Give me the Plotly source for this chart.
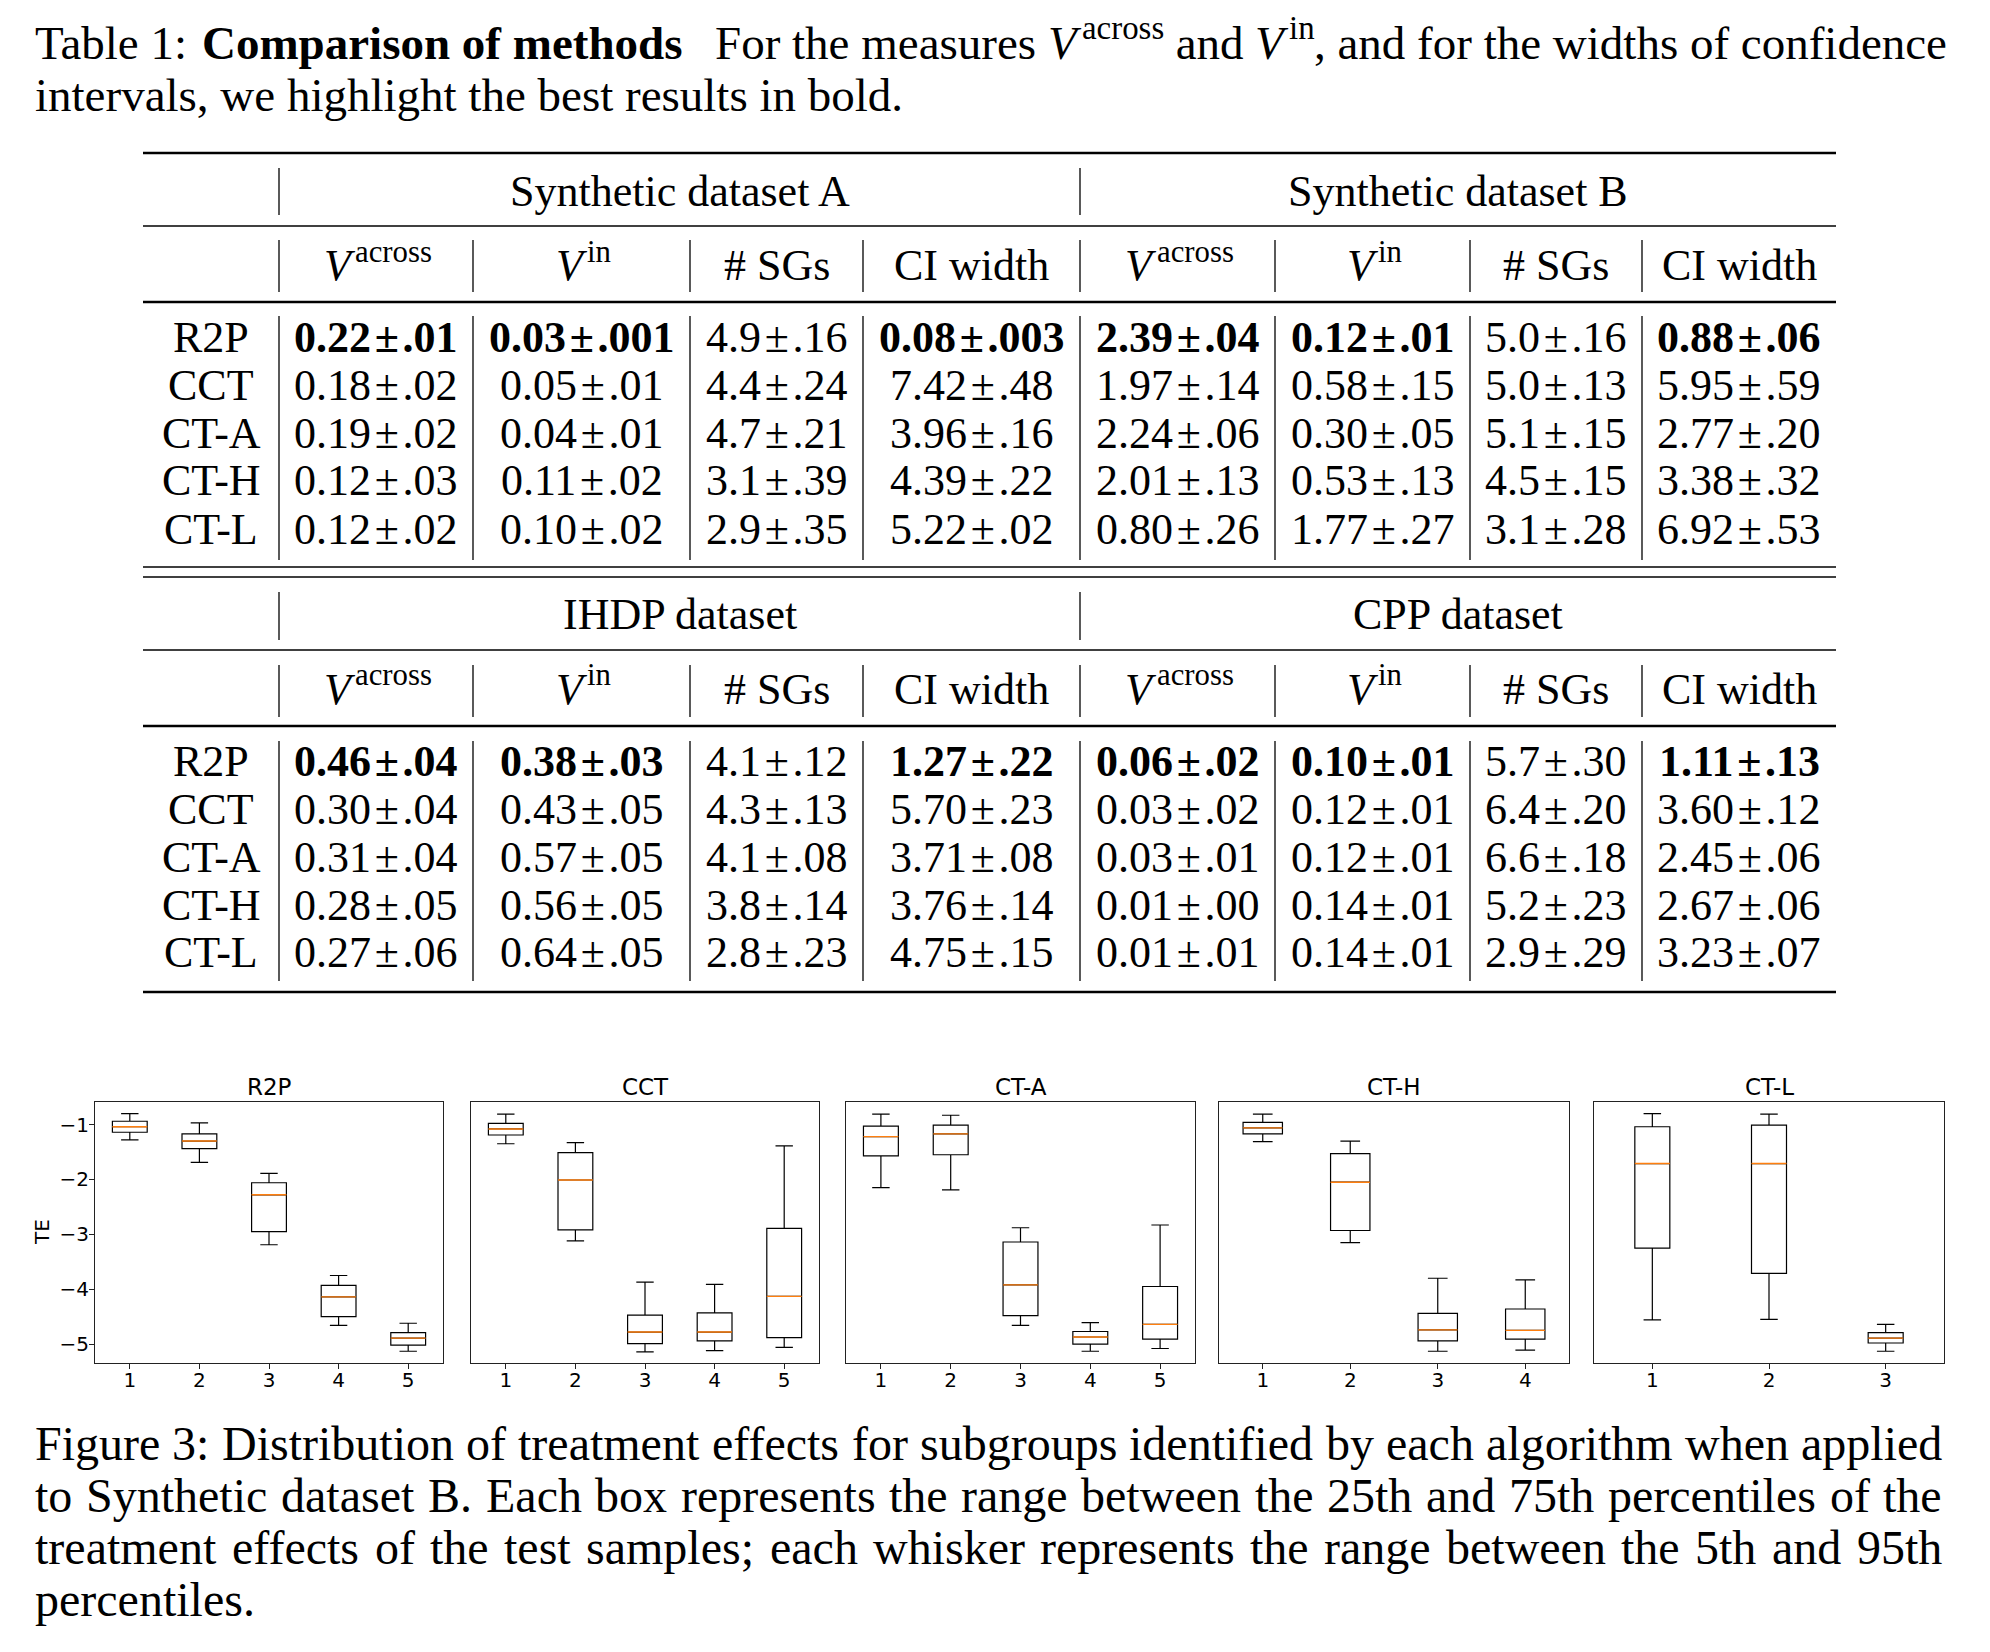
import plotly.graph_objects as go

# The page has an 8px body margin; the figure fills the rest of the 1990x1652 window.
PAGE_W, PAGE_H = 1990, 1652
BODY_MARGIN = 8
W, H = PAGE_W - 2 * BODY_MARGIN, PAGE_H - 2 * BODY_MARGIN

# ---------------- Table data ----------------
METHODS = ["R2P", "CCT", "CT-A", "CT-H", "CT-L"]
COLUMN_HEADERS = [("V", "across"), ("V", "in"), "# SGs", "CI width"]
DATASETS_TOP = ["Synthetic dataset A", "Synthetic dataset B"]
DATASETS_BOTTOM = ["IHDP dataset", "CPP dataset"]

SYN_A_V_ACROSS = ["0.22±.01", "0.18±.02", "0.19±.02", "0.12±.03", "0.12±.02"]
SYN_A_V_IN = ["0.03±.001", "0.05±.01", "0.04±.01", "0.11±.02", "0.10±.02"]
SYN_A_NUM_SGS = ["4.9±.16", "4.4±.24", "4.7±.21", "3.1±.39", "2.9±.35"]
SYN_A_CI_WIDTH = ["0.08±.003", "7.42±.48", "3.96±.16", "4.39±.22", "5.22±.02"]

SYN_B_V_ACROSS = ["2.39±.04", "1.97±.14", "2.24±.06", "2.01±.13", "0.80±.26"]
SYN_B_V_IN = ["0.12±.01", "0.58±.15", "0.30±.05", "0.53±.13", "1.77±.27"]
SYN_B_NUM_SGS = ["5.0±.16", "5.0±.13", "5.1±.15", "4.5±.15", "3.1±.28"]
SYN_B_CI_WIDTH = ["0.88±.06", "5.95±.59", "2.77±.20", "3.38±.32", "6.92±.53"]

IHDP_V_ACROSS = ["0.46±.04", "0.30±.04", "0.31±.04", "0.28±.05", "0.27±.06"]
IHDP_V_IN = ["0.38±.03", "0.43±.05", "0.57±.05", "0.56±.05", "0.64±.05"]
IHDP_NUM_SGS = ["4.1±.12", "4.3±.13", "4.1±.08", "3.8±.14", "2.8±.23"]
IHDP_CI_WIDTH = ["1.27±.22", "5.70±.23", "3.71±.08", "3.76±.14", "4.75±.15"]

CPP_V_ACROSS = ["0.06±.02", "0.03±.02", "0.03±.01", "0.01±.00", "0.01±.01"]
CPP_V_IN = ["0.10±.01", "0.12±.01", "0.12±.01", "0.14±.01", "0.14±.01"]
CPP_NUM_SGS = ["5.7±.30", "6.4±.20", "6.6±.18", "5.2±.23", "2.9±.29"]
CPP_CI_WIDTH = ["1.11±.13", "3.60±.12", "2.45±.06", "2.67±.06", "3.23±.07"]

BOLD_ROW = 0                 # R2P is best ...
BOLD_COLUMNS = [0, 1, 3]     # ... for V_across, V_in and CI width

# ---------------- Box-plot data (TE per subgroup) ----------------
# each entry: (5th pct whisker, 25th pct, median, 75th pct, 95th pct whisker)
PANEL_TITLES = ["R2P", "CCT", "CT-A", "CT-H", "CT-L"]
R2P_STATS = [(-1.28, -1.14, -1.04, -0.94, -0.80),
             (-1.69, -1.44, -1.30, -1.17, -0.97),
             (-3.19, -2.95, -2.28, -2.06, -1.89),
             (-4.66, -4.50, -4.14, -3.93, -3.75),
             (-5.13, -5.02, -4.89, -4.79, -4.62)]
CCT_STATS = [(-1.35, -1.19, -1.08, -0.98, -0.81),
             (-3.12, -2.92, -2.01, -1.51, -1.33),
             (-5.14, -4.99, -4.78, -4.47, -3.87),
             (-5.12, -4.94, -4.78, -4.43, -3.91),
             (-5.06, -4.88, -4.13, -2.89, -1.39)]
CTA_STATS = [(-2.15, -1.57, -1.22, -1.03, -0.81),
             (-2.19, -1.55, -1.17, -1.01, -0.83),
             (-4.66, -4.48, -3.92, -3.14, -2.88),
             (-5.13, -5.00, -4.87, -4.77, -4.61),
             (-5.08, -4.91, -4.64, -3.95, -2.83)]
CTH_STATS = [(-1.31, -1.17, -1.06, -0.96, -0.81),
             (-3.15, -2.93, -2.05, -1.53, -1.30),
             (-5.13, -4.94, -4.74, -4.44, -3.80),
             (-5.11, -4.91, -4.75, -4.36, -3.83)]
CTL_STATS = [(-4.56, -3.25, -1.71, -1.04, -0.80),
             (-4.55, -3.71, -1.71, -1.01, -0.81),
             (-5.13, -4.98, -4.89, -4.79, -4.64)]
Y_TICKS = [-1, -2, -3, -4, -5]

# caption line 1 as (text, style) runs; style: r=regular, b=bold, i=italic, s=superscript
CAPTION_TABLE_LINE1 = [("Table 1: ", "r"), ("Comparison of methods", "b"), ("\u2002\u2009", "r"),
                       ("For the measures ", "r"), ("V", "i"), ("across", "s"), (" and ", "r"),
                       ("V", "i"), ("in", "s"), (", and for the widths of confidence", "r")]
CAPTION_TABLE_LINE2 = "intervals, we highlight the best results in bold."
CAPTION_FIGURE = [
    "Figure 3: Distribution of treatment effects for subgroups identified by each algorithm when applied",
    "to Synthetic dataset B. Each box represents the range between the 25th and 75th percentiles of the",
    "treatment effects of the test samples; each whisker represents the range between the 5th and 95th",
    "percentiles.",
]

# ---------------- helpers ----------------
SERIF = "Liberation Serif"
SANS = "DejaVu Sans"

# Times (Liberation Serif) advance widths, 1/1000 em
_REG = dict(zip("abcdefghijklmnopqrstuvwxyz",
                [444, 500, 444, 500, 444, 333, 500, 500, 278, 278, 500, 278, 778,
                 500, 500, 500, 500, 333, 389, 278, 500, 500, 722, 500, 500, 444]))
_REG.update(dict(zip("ABCDEFGHIJKLMNOPQRSTUVWXYZ",
                     [722, 667, 667, 722, 611, 556, 722, 722, 333, 389, 722, 611, 889,
                      722, 722, 556, 722, 667, 556, 611, 722, 722, 944, 722, 722, 611])))
_REG.update({c: 500 for c in "0123456789"})
_REG.update({" ": 250, ".": 250, ",": 250, ";": 278, ":": 278, "-": 333,
             "\u2002": 500, "\u2009": 200})
_BOLD = {" ": 250, "C": 722, "o": 500, "m": 833, "p": 556, "a": 500, "r": 444, "i": 278, "s": 389,
         "n": 556, "f": 333, "e": 444, "t": 333, "h": 556, "d": 556}
_ITAL = {"V": 611}


def text_width(s, style, size):
    table = {"b": _BOLD, "i": _ITAL}.get(style, _REG)
    return sum(table.get(ch, 500) for ch in s) / 1000 * size


def px(x):
    return (x - BODY_MARGIN) / W


def py(y):
    return 1 - (y - BODY_MARGIN) / H


annotations = []
shapes = []


def text(x, y, s, size=44, family=SERIF, xanchor="center", yanchor="middle", angle=0,
         weight="normal", style="normal"):
    annotations.append(dict(x=px(x), y=py(y), xref="paper", yref="paper", text=s,
                            showarrow=False, xanchor=xanchor, yanchor=yanchor,
                            textangle=angle,
                            font=dict(family=family, size=size, color="black",
                                      weight=weight, style=style)))


def runs(x, y, parts, size):
    """Lay out a sequence of styled text runs from left edge x, cap-centre y."""
    sup_size = 0.7 * size
    for s, st in parts:
        if st == "s":
            x += 0.1 * size
            text(x, y - 0.32 * size, s, size=sup_size, xanchor="left")
            x += text_width(s, "r", sup_size)
        else:
            text(x, y, s, size=size, xanchor="left",
                 weight="bold" if st == "b" else "normal",
                 style="italic" if st == "i" else "normal")
            x += text_width(s, st, size)


def justified(x0, x1, y, line, size):
    """Place the words of a line so that it fills x0..x1 (like LaTeX justification)."""
    words = line.split(" ")
    widths = [text_width(w, "r", size) for w in words]
    gap = (x1 - x0 - sum(widths)) / (len(words) - 1)
    x = x0
    for w, wd in zip(words, widths):
        text(x, y, w, size=size, xanchor="left")
        x += wd + gap


def hline(y, x0, x1, w):
    shapes.append(dict(type="line", xref="paper", yref="paper", x0=px(x0), x1=px(x1),
                       y0=py(y), y1=py(y), line=dict(color="black", width=w)))


def vline(x, y0, y1, w=1.3):
    shapes.append(dict(type="line", xref="paper", yref="paper", x0=px(x), x1=px(x),
                       y0=py(y0), y1=py(y1), line=dict(color="black", width=w)))


def fmt(v):
    return v.replace("±", "\u200a±\u200a")


# ---------------- captions ----------------
TEXT_LEFT, TEXT_RIGHT = 33, 1940
runs(TEXT_LEFT, 43, CAPTION_TABLE_LINE1, 47)
text(TEXT_LEFT, 95, CAPTION_TABLE_LINE2, size=47, xanchor="left")
FIG_CAP_Y = [1443, 1495, 1547, 1599]
for k, (yy, line) in enumerate(zip(FIG_CAP_Y, CAPTION_FIGURE)):
    if k < len(CAPTION_FIGURE) - 1:
        justified(TEXT_LEFT, TEXT_RIGHT, yy, line, 48)
    else:
        text(TEXT_LEFT, yy, line, size=48, xanchor="left")

# ---------------- table ----------------
TSIZE = 44
TX0, TX1 = 143, 1836
SEPS = [279, 473, 690, 863, 1080, 1275, 1470, 1642]
COL_CENTERS = [(SEPS[i] + SEPS[i + 1]) / 2 for i in range(7)] + [(SEPS[7] + TX1) / 2]
LABEL_CX = (TX0 + SEPS[0]) / 2
GROUP_CX = [(SEPS[0] + SEPS[4]) / 2, (SEPS[4] + TX1) / 2]

blocks = [
    dict(titles=DATASETS_TOP,
         cols=[SYN_A_V_ACROSS, SYN_A_V_IN, SYN_A_NUM_SGS, SYN_A_CI_WIDTH,
               SYN_B_V_ACROSS, SYN_B_V_IN, SYN_B_NUM_SGS, SYN_B_CI_WIDTH],
         top=153, top_w=2.6, title_y=191, title_seg=(168, 215), mid=226,
         head_y=266, head_seg=(240, 292), head_rule=302,
         rows=[337, 385, 433, 481, 529], data_seg=(316, 560)),
    dict(titles=DATASETS_BOTTOM,
         cols=[IHDP_V_ACROSS, IHDP_V_IN, IHDP_NUM_SGS, IHDP_CI_WIDTH,
               CPP_V_ACROSS, CPP_V_IN, CPP_NUM_SGS, CPP_CI_WIDTH],
         top=577, top_w=1.6, title_y=614, title_seg=(592, 640), mid=650,
         head_y=689, head_seg=(665, 717), head_rule=726,
         rows=[761, 809, 857, 905, 953], data_seg=(741, 981)),
]

hline(567, TX0, TX1, 1.6)       # first line of the double rule
hline(992, TX0, TX1, 2.6)       # bottom rule

for b in blocks:
    hline(b["top"], TX0, TX1, b["top_w"])
    hline(b["mid"], TX0, TX1, 1.6)
    hline(b["head_rule"], TX0, TX1, 2.4)
    for sx in (SEPS[0], SEPS[4]):
        vline(sx, *b["title_seg"])
    for sx in SEPS:
        vline(sx, *b["head_seg"])
        vline(sx, *b["data_seg"])
    for g, t in enumerate(b["titles"]):
        text(GROUP_CX[g], b["title_y"], t, size=TSIZE)
    for c in range(8):
        hdr = COLUMN_HEADERS[c % 4]
        if isinstance(hdr, tuple):
            base, sup = hdr
            total = (text_width(base, "i", TSIZE) + 0.1 * TSIZE
                     + text_width(sup, "r", 0.7 * TSIZE))
            runs(COL_CENTERS[c] - total / 2, b["head_y"], [(base, "i"), (sup, "s")], TSIZE)
        else:
            text(COL_CENTERS[c], b["head_y"], hdr, size=TSIZE)
    for r, (m, yy) in enumerate(zip(METHODS, b["rows"])):
        text(LABEL_CX, yy, m, size=TSIZE)
        for c in range(8):
            bold = r == BOLD_ROW and (c % 4) in BOLD_COLUMNS
            text(COL_CENTERS[c], yy, fmt(b["cols"][c][r]), size=TSIZE,
                 weight="bold" if bold else "normal")

# ---------------- box plots ----------------
fig = go.Figure()
PANEL_STATS = [R2P_STATS, CCT_STATS, CTA_STATS, CTH_STATS, CTL_STATS]
PANEL_X = [(95, 443), (471, 819), (846, 1195), (1219, 1569), (1594, 1944)]
AX_TOP, AX_BOT = 1102, 1363
Y_RANGE = [-5.344, -0.589]

layout_axes = {}
for i, (title, stats, (x0, x1)) in enumerate(zip(PANEL_TITLES, PANEL_STATS, PANEL_X)):
    n = len(stats)
    pos = list(range(1, n + 1))
    bw = min(max(0.15 * (n - 1), 0.15), 0.5)
    xa = "x" if i == 0 else f"x{i + 1}"
    ya = "y" if i == 0 else f"y{i + 1}"
    fig.add_trace(go.Box(
        x=pos,
        lowerfence=[s[0] for s in stats], q1=[s[1] for s in stats],
        median=[s[2] for s in stats], q3=[s[3] for s in stats],
        upperfence=[s[4] for s in stats],
        width=bw, whiskerwidth=0.5, boxpoints=False,
        line=dict(color="black", width=1.2), fillcolor="rgba(255,255,255,0)",
        showlegend=False, hoverinfo="skip", xaxis=xa, yaxis=ya))
    mx, my = [], []
    for p, s in zip(pos, stats):
        mx += [p - bw / 2, p + bw / 2, None]
        my += [s[2], s[2], None]
    fig.add_trace(go.Scatter(x=mx, y=my, mode="lines",
                             line=dict(color="#ff7f0e", width=1.4),
                             showlegend=False, hoverinfo="skip", xaxis=xa, yaxis=ya))
    axis_common = dict(showline=True, mirror=True, linecolor="#222", linewidth=1,
                       showgrid=False, zeroline=False, fixedrange=True,
                       tickfont=dict(family=SANS, size=20, color="black"),
                       ticks="outside", ticklen=5, tickcolor="#222", tickwidth=1)
    key_x = "xaxis" if i == 0 else f"xaxis{i + 1}"
    key_y = "yaxis" if i == 0 else f"yaxis{i + 1}"
    layout_axes[key_x] = dict(axis_common, domain=[px(x0), px(x1)], range=[0.5, n + 0.5],
                              tickvals=pos, ticktext=[str(p) for p in pos],
                              ticklabelstandoff=-6, anchor=ya)
    ydict = dict(axis_common, domain=[py(AX_BOT), py(AX_TOP)], range=Y_RANGE, anchor=xa)
    if i == 0:
        ydict.update(tickvals=Y_TICKS, ticklabelstandoff=-4)
    else:
        ydict.update(ticks="", showticklabels=False)
    layout_axes[key_y] = ydict
    text((x0 + x1) / 2, 1087, title, size=23, family=SANS)

text(42, 1232, "TE", size=20, family=SANS, angle=-90)

fig.update_layout(
    width=W, height=H, autosize=False,
    margin=dict(l=0, r=0, t=0, b=0),
    paper_bgcolor="white", plot_bgcolor="white",
    annotations=annotations, shapes=shapes,
    **layout_axes,
)

fig.write_html("out.html", config={"displayModeBar": False})
